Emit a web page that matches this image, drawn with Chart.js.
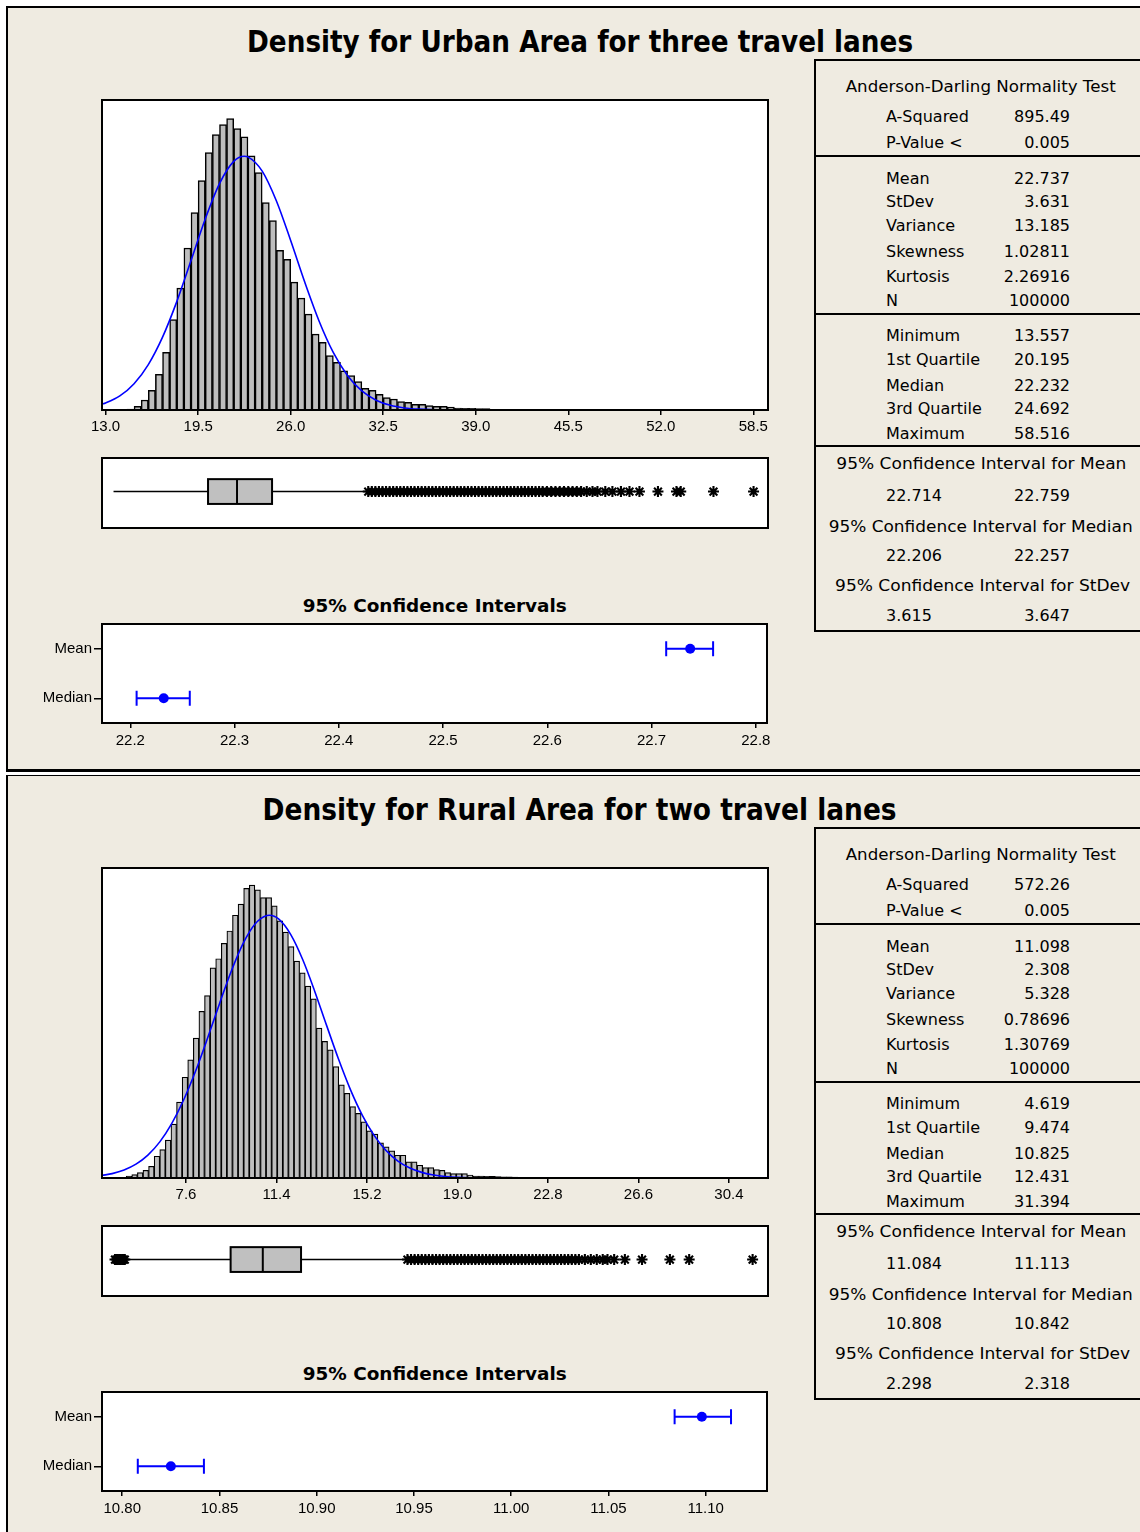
<!DOCTYPE html>
<html><head><meta charset="utf-8">
<script src="https://cdn.jsdelivr.net/npm/chart.js@4.4.0/dist/chart.umd.min.js"></script>
<style>
html,body{margin:0;padding:0;background:#fff;}
#page{position:relative;width:1140px;height:1532px;overflow:hidden;background:#fff;}
.blk{position:absolute;}
.txt{position:absolute;white-space:nowrap;color:#000;}
canvas{position:absolute;}
</style></head><body><div id="page"></div>
<script>
// ---------------- DATA ----------------
// Urban (three travel lanes)
const urbanBinStart = 13.5, urbanBinWidth = 0.5;
const urbanCounts = [2,7,22,80,217,426,773,1250,1959,2638,3506,4272,4966,5573,5963,6180,6310,6093,5912,5500,5139,4489,4098,3455,3260,2768,2421,2074,1641,1467,1178,1034,846,744,614,470,426,340,267,239,181,166,123,123,94,80,80,65,43,36,36,29,29,14,12,10,8,7,6,5,4,3,3,2,2,2,1,1,1,1,1,1,0,1,1,0,1,0,1,0,1,0,0,1,0,1,0,0,0,1,1];
const urbanCurveX = [12.75,13,14,15,16,17,18,19,20,21,22,22.74,23,24,25,26,27,28,29,30,31,32,33,34,35,36,36.35];
const urbanCurveY = [125,151,304,568,983,1577,2346,3235,4135,4900,5382,5494,5479,5171,4524,3668,2758,1922,1241,743,413,212,101,45,18,7,5];
const urbanTicks = [13.0,19.5,26.0,32.5,39.0,45.5,52.0,58.5];
const urbanBoxStats = [13.557,20.195,22.232,24.692,31.40]; // whisker low, Q1, median, Q3, whisker high
const urbanOutliers = [31.45,31.7,31.95,32.2,32.45,32.7,32.95,33.2,33.45,33.7,33.95,34.2,34.45,34.7,34.95,35.2,35.45,35.7,35.95,36.2,36.45,36.7,36.95,37.2,37.45,37.7,37.95,38.2,38.45,38.7,38.95,39.2,39.45,39.7,39.95,40.2,40.45,40.7,40.95,41.2,41.45,41.7,41.95,42.2,42.45,42.7,42.95,43.2,43.45,43.7,44.0,44.3,44.6,44.9,45.2,45.5,45.8,46.1,46.4,46.8,47.2,47.55,48.1,48.6,49.2,49.8,50.5,51.8,53.1,53.4,55.7,58.516];
const urbanCIMean = [22.714,22.737,22.759];
const urbanCIMedian = [22.206,22.232,22.257];
const urbanCITicks = [22.2,22.3,22.4,22.5,22.6,22.7,22.8];
const urbanStatValues = ['895.49','0.005','22.737','3.631','13.185','1.02811','2.26916','100000','13.557','20.195','22.232','24.692','58.516'];
const urbanCIValues = [['22.714','22.759'],['22.206','22.257'],['3.615','3.647']];

// Rural (two travel lanes)
const ruralBinStart = 4.619, ruralBinWidth = 0.2349;
const ruralCounts = [1,3,31,52,83,119,181,336,440,584,833,1174,1557,1826,2162,2576,2819,3248,3388,3626,3817,4060,4231,4474,4526,4453,4334,4334,4205,3972,3801,3574,3351,3170,2964,2767,2317,2110,1981,1722,1438,1309,1102,998,869,729,678,543,481,419,352,352,248,248,197,160,160,129,119,83,67,67,67,47,30,28,26,24,22,20,18,16,12,10,8,7,6,5,4,3,3,2,2,2,1,1,1,1,1,0,1,1,0,1,0,0,1,0,1,0,0,0,1,0,0,1,0,0,0,0,1,0,0,1];
const ruralCurveX = [4.07,4.5,5,5.5,6,6.5,7,7.5,8,8.5,9,9.5,10,10.5,11,11.1,11.5,12,12.5,13,13.5,14,14.5,15,15.5,16,16.5,17,17.5,18,18.5,19,19.5,19.8];
const ruralCurveY = [39,68,124,214,354,558,840,1205,1649,2155,2686,3195,3626,3926,4056,4060,3999,3761,3376,2891,2362,1842,1370,973,659,426,262,154,87,46,24,12,5,3];
const ruralTicks = [7.6,11.4,15.2,19.0,22.8,26.6,30.4];
const ruralBoxStats = [5.04,9.474,10.825,12.431,16.86];
const ruralOutliers = [4.619,4.68,4.74,4.80,4.86,4.92,4.98,5.03,16.9,17.05,17.2,17.35,17.5,17.65,17.8,17.95,18.1,18.25,18.4,18.55,18.7,18.85,19.0,19.15,19.3,19.45,19.6,19.75,19.9,20.05,20.2,20.35,20.5,20.65,20.8,20.95,21.1,21.25,21.4,21.55,21.7,21.85,22.0,22.15,22.3,22.45,22.6,22.75,22.9,23.05,23.2,23.35,23.5,23.65,23.8,23.95,24.1,24.35,24.6,24.85,25.1,25.3,25.58,26.03,26.75,27.92,28.73,31.394];
const ruralCIMean = [11.084,11.098,11.113];
const ruralCIMedian = [10.808,10.825,10.842];
const ruralCITicks = [10.80,10.85,10.90,10.95,11.00,11.05,11.10];
const ruralStatValues = ['572.26','0.005','11.098','2.308','5.328','0.78696','1.30769','100000','4.619','9.474','10.825','12.431','31.394'];
const ruralCIValues = [['11.084','11.113'],['10.808','10.842'],['2.298','2.318']];

const statLabels = ['A-Squared','P-Value <','Mean','StDev','Variance','Skewness','Kurtosis','N','Minimum','1st Quartile','Median','3rd Quartile','Maximum'];
const ciHeaders = ['95% Confidence Interval for Mean','95% Confidence Interval for Median','95% Confidence Interval for StDev'];
const ciRowLabels = ['Median','Mean'];
const titles = ['Density for Urban Area for three travel lanes','Density for Rural Area for two travel lanes'];

// ---------------- LAYOUT / STYLE ----------------
const BEIGE = '#EFEBE1';
const TICKFONT = {family:'"Liberation Sans", Arial, sans-serif', size:15};
const page = document.getElementById('page');

function rect(l,t,w,h,bg){const d=document.createElement('div');d.className='blk';
  Object.assign(d.style,{left:l+'px',top:t+'px',width:w+'px',height:h+'px',background:bg});page.appendChild(d);return d;}

function addText(str,x,y,o){
  o=Object.assign({align:'left',size:16,family:'"DejaVu Sans", Verdana, sans-serif',weight:'normal',width:null},o||{});
  const el=document.createElement('div');el.className='txt';el.textContent=str;
  el.style.font=`${o.weight} ${o.size}px ${o.family}`;el.style.lineHeight=o.size+'px';el.style.height=o.size+'px';
  page.appendChild(el);
  const w=el.getBoundingClientRect().width;
  let left=o.align==='left'?x:(o.align==='center'?x-w/2:x-w);
  el.style.left=left+'px';el.style.top=(y-o.size/2)+'px';
  if(o.width){el.style.transform=`scaleX(${o.width/w})`;
    el.style.transformOrigin=o.align==='left'?'left center':(o.align==='right'?'right center':'center center');}
  return el;
}

function mkCanvas(l,t,w,h){const c=document.createElement('canvas');c.width=w;c.height=h;
  Object.assign(c.style,{left:l+'px',top:t+'px',width:w+'px',height:h+'px'});page.appendChild(c);return c;}

const framePlugin=()=>({id:'frame',
  beforeDraw(ch){const a=ch.chartArea,x=ch.ctx;x.save();x.fillStyle='#fff';x.fillRect(a.left,a.top,a.right-a.left,a.bottom-a.top);x.restore();},
  afterDraw(ch){const a=ch.chartArea,x=ch.ctx;x.save();x.strokeStyle='#000';x.lineWidth=2;x.strokeRect(a.left,a.top,a.right-a.left,a.bottom-a.top);x.restore();}
});

const baseOpts={responsive:false,animation:false,devicePixelRatio:1,events:[],
  plugins:{legend:{display:false},tooltip:{enabled:false}}};

function histogram(dy,binStart,binWidth,counts,cx,cy,ticks,xmin,xmax,ymax,bw){
  const c=mkCanvas(80,90+dy,702,350);
  const bars=counts.map((v,i)=>({x:binStart+binWidth*(i+0.5),y:v}));
  const curve=cx.map((x,i)=>({x:x,y:cy[i]}));
  new Chart(c,{type:'bar',
    data:{datasets:[
      {type:'line',data:curve,borderColor:'#0000FF',borderWidth:1.6,pointRadius:0,fill:false,cubicInterpolationMode:'monotone',order:0},
      {type:'bar',data:bars,backgroundColor:'#BEBEBE',borderColor:'#000',borderWidth:bw,barPercentage:1,categoryPercentage:1,grouped:false,order:1}
    ]},
    options:Object.assign({},baseOpts,{
      layout:{padding:{left:22,right:14,top:10,bottom:0}},
      scales:{
        x:{type:'linear',min:xmin,max:xmax,offset:false,
          afterBuildTicks:s=>{s.ticks=ticks.map(v=>({value:v}));},
          afterFit:s=>{s.height=30;},
          ticks:{callback:v=>Number(v).toFixed(1),color:'#000',font:TICKFONT,padding:3,autoSkip:false,maxRotation:0,minRotation:0},
          grid:{drawOnChartArea:false,drawTicks:true,tickLength:5,color:'#000',lineWidth:1.5,offset:false},
          border:{display:false}},
        y:{display:false,min:0,max:ymax}
      }}),
    plugins:[framePlugin()]
  });
}

function boxPlugin(stats){return {id:'box',beforeDatasetsDraw(ch){
  const xs=ch.scales.x,ys=ch.scales.y,x=ch.ctx;
  const yc=ys.getPixelForValue(1),yt=ys.getPixelForValue(1.34),yb=ys.getPixelForValue(0.66);
  const p=stats.map(v=>xs.getPixelForValue(v));
  x.save();x.strokeStyle='#000';x.lineWidth=1.5;
  x.beginPath();x.moveTo(p[0],yc);x.lineTo(p[1],yc);x.moveTo(p[3],yc);x.lineTo(p[4],yc);x.stroke();
  x.fillStyle='#C0C0C0';x.fillRect(p[1],yt,p[3]-p[1],yb-yt);
  x.lineWidth=2;x.strokeRect(p[1],yt,p[3]-p[1],yb-yt);
  x.beginPath();x.moveTo(p[2],yt);x.lineTo(p[2],yb);x.stroke();
  x.restore();}};}

function boxplot(dy,stats,outliers,xmin,xmax){
  const c=mkCanvas(80,448+dy,702,90);
  new Chart(c,{type:'scatter',
    data:{datasets:[{data:outliers.map(v=>({x:v,y:1})),pointStyle:'star',pointRadius:5.5,borderColor:'#000',backgroundColor:'#000',borderWidth:2.1}]},
    options:Object.assign({},baseOpts,{
      layout:{padding:{left:22,right:14,top:10,bottom:10}},
      scales:{x:{type:'linear',min:xmin,max:xmax,display:false},y:{min:0,max:1.92,display:false}}}),
    plugins:[framePlugin(),boxPlugin(stats)]
  });
}

function errPlugin(rows){return {id:'err',beforeDatasetsDraw(ch){
  const xs=ch.scales.x,ys=ch.scales.y,x=ch.ctx;
  x.save();x.strokeStyle='#0000FF';x.lineWidth=2;
  rows.forEach(r=>{const y=ys.getPixelForValue(r.y),a=xs.getPixelForValue(r.ci[0]),b=xs.getPixelForValue(r.ci[2]);
    x.beginPath();x.moveTo(a,y);x.lineTo(b,y);x.moveTo(a,y-7.5);x.lineTo(a,y+7.5);x.moveTo(b,y-7.5);x.lineTo(b,y+7.5);x.stroke();});
  x.restore();}};}

function ciChart(dy,meanCI,medianCI,ticks,xmin,xmax,dec){
  const c=mkCanvas(10,613+dy,770,142);
  new Chart(c,{type:'scatter',
    data:{datasets:[{data:[{x:meanCI[1],y:2},{x:medianCI[1],y:1}],pointStyle:'circle',pointRadius:5,backgroundColor:'#0000FF',borderColor:'#0000FF',borderWidth:0}]},
    options:Object.assign({},baseOpts,{
      layout:{padding:{left:0,right:13,top:10,bottom:0}},
      scales:{
        x:{type:'linear',min:xmin,max:xmax,
          afterBuildTicks:s=>{s.ticks=ticks.map(v=>({value:v}));},
          afterFit:s=>{s.height=32;},
          ticks:{callback:v=>Number(v).toFixed(dec),color:'#000',font:TICKFONT,padding:4,autoSkip:false,maxRotation:0,minRotation:0},
          grid:{drawOnChartArea:false,drawTicks:true,tickLength:5,color:'#000',lineWidth:1.5},
          border:{display:false}},
        y:{type:'linear',min:0.5,max:2.5,
          afterBuildTicks:s=>{s.ticks=[{value:1},{value:2}];},
          afterFit:s=>{s.width=92;},
          ticks:{callback:v=>ciRowLabels[Math.round(v)-1]||'',color:'#000',font:TICKFONT,padding:2,autoSkip:false},
          grid:{drawOnChartArea:false,drawTicks:true,tickLength:8,color:'#000',lineWidth:1.5},
          border:{display:false}}
      }}),
    plugins:[framePlugin(),errPlugin([{y:2,ci:meanCI},{y:1,ci:medianCI}])]
  });
}

const statRowY=[117.3,143.3,179,202.3,226.3,252,276.7,301,336,360,386,409.3,434];
const ciHeadY=[464,526.7,586], ciHeadW=[290,304,295], ciHeadX=[981.7,980.5,983], ciValY=[495.7,555.7,616];

function table(dy,vals,ciVals){
  const b=document.createElement('div');b.className='blk';
  Object.assign(b.style,{left:'814px',top:(59+dy)+'px',width:'340px',height:'573px',border:'2px solid #000',boxSizing:'border-box'});
  page.appendChild(b);
  [155,313,445].forEach(y=>rect(814,y+dy,340,2,'#000'));
  addText('Anderson-Darling Normality Test',981,87.3+dy,{align:'center',width:270});
  statLabels.forEach((l,i)=>{addText(l,886,statRowY[i]+dy);addText(vals[i],1070,statRowY[i]+dy,{align:'right'});});
  ciHeaders.forEach((h,i)=>{addText(h,ciHeadX[i],ciHeadY[i]+dy,{align:'center',width:ciHeadW[i]});
    addText(ciVals[i][0],886,ciValY[i]+dy);addText(ciVals[i][1],1070,ciValY[i]+dy,{align:'right'});});
}

// panels
rect(6,6,1140,765,BEIGE);
rect(6,6,1140,2,'#000');
rect(6,6,2,765,'#000');
rect(6,769,1140,3,'#000');
rect(6,775,1140,800,BEIGE);
rect(6,775,1140,1,'#000');
rect(6,775,2,800,'#000');

function panel(dy,title,binStart,binWidth,counts,cx,cy,ticks,xmin,xmax,ymax,bw,stats,outl,ciM,ciMed,ciTicks,cxmin,cxmax,dec,vals,ciVals){
  addText(title,580,41.5+dy,{align:'center',size:30,weight:'bold',family:'"DejaVu Sans Condensed","DejaVu Sans",sans-serif',width:dy?634:666});
  histogram(dy,binStart,binWidth,counts,cx,cy,ticks,xmin,xmax,ymax,bw);
  boxplot(dy,stats,outl,xmin,xmax);
  addText('95% Confidence Intervals',435,606+dy,{align:'center',size:17,weight:'bold',family:'"DejaVu Sans Condensed","DejaVu Sans",sans-serif',width:264});
  ciChart(dy,ciM,ciMed,ciTicks,cxmin,cxmax,dec);
  table(dy,vals,ciVals);
}

panel(0,titles[0],urbanBinStart,urbanBinWidth,urbanCounts,urbanCurveX,urbanCurveY,urbanTicks,12.747,59.53,6710,1.5,
  urbanBoxStats,urbanOutliers,urbanCIMean,urbanCIMedian,urbanCITicks,22.1728,22.8107,1,urbanStatValues,urbanCIValues);
panel(768,titles[1],ruralBinStart,ruralBinWidth,ruralCounts,ruralCurveX,ruralCurveY,ruralTicks,4.073,32.04,4790,1.2,
  ruralBoxStats,ruralOutliers,ruralCIMean,ruralCIMedian,ruralCITicks,10.7896,11.1315,2,ruralStatValues,ruralCIValues);
</script></body></html>
